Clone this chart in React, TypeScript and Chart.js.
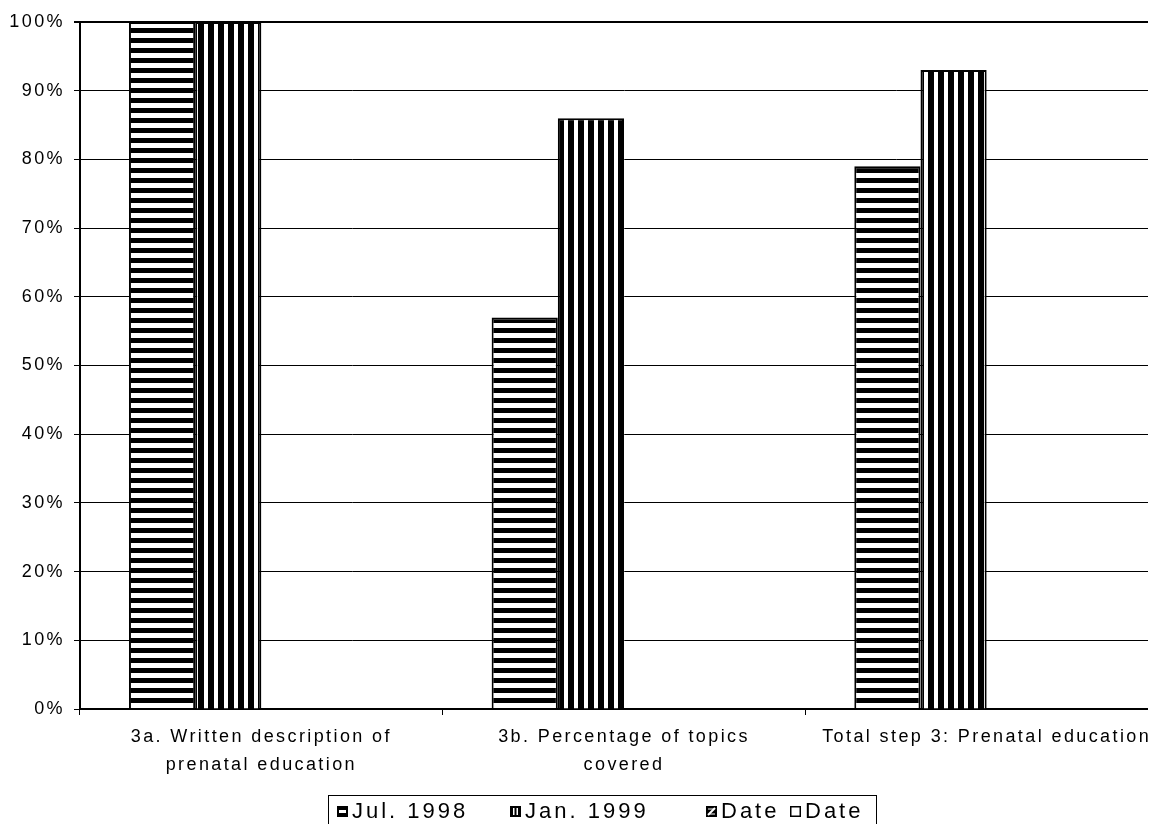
import { useEffect, useRef } from "react";
import { Chart, registerables } from "chart.js";

Chart.register(...registerables);

// ---- data ----
const categories: (string | string[])[] = [
  ["3a. Written description of", "prenatal education"],
  ["3b. Percentage of topics", "covered"],
  "Total step 3: Prenatal education",
];
const seriesNames = ["Jul. 1998", "Jan. 1999", "Date", "Date"];
const jul1998: (number | null)[] = [100, 57, 79];
const jan1999: (number | null)[] = [100, 86, 93];
const dateA: (number | null)[] = [null, null, null];
const dateB: (number | null)[] = [null, null, null];
const yMin = 0;
const yMax = 100;
const yStep = 10;

const FONT = 'Arial, "Liberation Sans", sans-serif';

function stripePattern(kind: "h" | "v"): CanvasPattern | string {
  const c = document.createElement("canvas");
  c.width = 10;
  c.height = 10;
  const g = c.getContext("2d");
  if (!g) return "#000";
  g.fillStyle = "#fff";
  g.fillRect(0, 0, 10, 10);
  g.fillStyle = "#000";
  if (kind === "h") g.fillRect(0, 0, 10, 5);
  else g.fillRect(0, 0, 6, 10);
  return g.createPattern(c, "repeat") || "#000";
}

function drawIcon(ctx: CanvasRenderingContext2D, kind: string, x: number, y: number, w: number, h: number) {
  ctx.save();
  if (kind === "h") {
    ctx.fillStyle = "#000";
    ctx.fillRect(x, y, w, h);
    ctx.fillStyle = "#fff";
    ctx.fillRect(x + 2, y + h / 2 - 1.5, w - 4, 3);
  } else if (kind === "v") {
    ctx.fillStyle = "#000";
    ctx.fillRect(x, y, w, h);
    ctx.fillStyle = "#fff";
    ctx.fillRect(x + 3, y + 2, 1.5, h - 4);
    ctx.fillRect(x + 6.5, y + 2, 1.5, h - 4);
  } else if (kind === "d") {
    ctx.fillStyle = "#000";
    ctx.fillRect(x, y, w, h);
    ctx.strokeStyle = "#fff";
    ctx.lineWidth = 2;
    ctx.beginPath();
    ctx.moveTo(x + 2, y + h - 2);
    ctx.lineTo(x + w - 2, y + 2);
    ctx.stroke();
    ctx.lineWidth = 1;
    ctx.beginPath();
    ctx.moveTo(x + 2, y + 3);
    ctx.lineTo(x + w - 3, y + 3);
    ctx.moveTo(x + 3, y + h - 3);
    ctx.lineTo(x + w - 2, y + h - 3);
    ctx.stroke();
  } else {
    ctx.fillStyle = "#fff";
    ctx.fillRect(x, y, w, h);
    ctx.strokeStyle = "#000";
    ctx.lineWidth = 1.5;
    ctx.strokeRect(x + 0.75, y + 0.75, w - 1.5, h - 1.5);
  }
  ctx.restore();
}

const spacingPlugin = {
  id: "spacing",
  beforeUpdate(chart: any) {
    chart.ctx.letterSpacing = "2.4px";
  },
  beforeDraw(chart: any) {
    chart.ctx.letterSpacing = "2.4px";
  },
};

const boxLegendPlugin = {
  id: "boxLegend",
  afterDraw(chart: any) {
    const ctx: CanvasRenderingContext2D = chart.ctx;
    ctx.save();
    const boxL = 320;
    const boxT = 787;
    const boxR = 868;
    ctx.strokeStyle = "#000";
    ctx.lineWidth = 1;
    ctx.strokeRect(boxL + 0.5, boxT + 0.5, boxR - boxL, 60);
    ctx.font = `22px ${FONT}`;
    ctx.letterSpacing = "3px";
    ctx.textBaseline = "middle";
    ctx.textAlign = "left";
    ctx.fillStyle = "#000";
    const cy = 804;
    const xs = [329, 502, 698, 782];
    chart.data.datasets.forEach((ds: any, i: number) => {
      const x = xs[i];
      drawIcon(ctx, ds.legendIcon, x, cy - 6, 11, 11);
      ctx.fillText(ds.label, x + 15, cy);
    });
    ctx.restore();
  },
};

export default function App() {
  const ref = useRef<HTMLCanvasElement>(null);
  useEffect(() => {
    document.body.style.overflow = "hidden";
    document.documentElement.style.overflow = "hidden";
    const canvas = ref.current;
    if (!canvas) return;
    const common = { borderColor: "#000", borderWidth: 2 };
    const chart = new Chart(canvas, {
      type: "bar",
      data: {
        labels: categories as any,
        datasets: [
          { label: seriesNames[0], data: jul1998, backgroundColor: stripePattern("h"), legendIcon: "h", ...common } as any,
          { label: seriesNames[1], data: jan1999, backgroundColor: stripePattern("v"), legendIcon: "v", ...common } as any,
          { label: seriesNames[2], data: dateA, backgroundColor: "#000", legendIcon: "d", ...common } as any,
          { label: seriesNames[3], data: dateB, backgroundColor: "#fff", legendIcon: "w", ...common } as any,
        ],
      },
      options: {
        responsive: false,
        animation: false,
        devicePixelRatio: 1,
        layout: { padding: { top: 14, right: 12, left: 0, bottom: 0 } },
        datasets: { bar: { categoryPercentage: 0.73, barPercentage: 1 } },
        plugins: {
          legend: { display: false },
          tooltip: { enabled: false },
          title: { display: false },
        },
        scales: {
          x: {
            offset: true,
            grid: {
              display: true,
              drawOnChartArea: false,
              drawTicks: true,
              tickLength: 6,
              color: "#000",
              lineWidth: 1,
              offset: true,
            },
            border: { display: true, color: "#000", width: 2 },
            ticks: {
              color: "#000",
              font: { family: FONT, size: 18, lineHeight: "28px" },
              padding: 8,
              maxRotation: 0,
              minRotation: 0,
              autoSkip: false,
            },
            afterFit: (s: any) => {
              s.height = 115;
              s.paddingLeft = 0;
              s.paddingRight = 0;
            },
          },
          y: {
            min: yMin,
            max: yMax,
            grid: {
              color: "#000",
              lineWidth: (c: any) => (c.tick && c.tick.value === yMax ? 2 : 1),
              tickLength: 6,
              drawTicks: true,
            },
            border: { display: true, color: "#000", width: 2 },
            ticks: {
              stepSize: yStep,
              callback: (v: any) => v + "%",
              color: "#000",
              font: { family: FONT, size: 18 },
              padding: 9,
            },
            afterFit: (s: any) => {
              s.width = 72;
              s.paddingTop = 0;
              s.paddingBottom = 0;
            },
          },
        },
      } as any,
      plugins: [spacingPlugin, boxLegendPlugin],
    });
    return () => chart.destroy();
  }, []);
  return (
    <div style={{ width: 1148, height: 816, overflow: "hidden", background: "#fff" }}>
      <canvas ref={ref} width={1172} height={816} style={{ display: "block", width: 1172, height: 816 }} />
    </div>
  );
}
